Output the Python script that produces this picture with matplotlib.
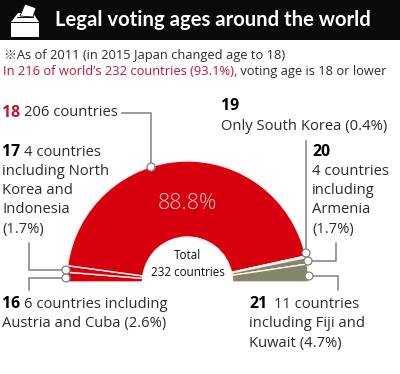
import matplotlib
matplotlib.use('Agg')
import matplotlib.pyplot as plt
from matplotlib.patches import Wedge, Rectangle, Polygon, Circle
import numpy as np

W, H = 400, 374
title = 'Legal voting ages around the world'
note = '※As of 2011 (in 2015 Japan changed age to 18)'
sub_red = 'In 216 of world’s 232 countries (93.1%),'
sub_black = ' voting age is 18 or lower'
ages = [16, 17, 18, 19, 20, 21]
counts = [6, 4, 206, 1, 4, 11]
pct_main = '88.8%'
total_label = 'Total\n232 countries'
RED = '#d7000f'; PINK = '#f2c9b8'; OLIVE = '#85856b'; GRAY = '#808080'
TXT = '#2b2b2b'; DARKRED = '#bf1530'
colors = [RED, RED, RED, PINK, OLIVE, OLIVE]

fig = plt.figure(figsize=(W/100, H/100), dpi=100)
ax = fig.add_axes([0, 0, 1, 1])
ax.set_xlim(0, W); ax.set_ylim(H, 0); ax.axis('off')
body = ['Open Sans', 'DejaVu Sans']
FS = 10.6

ax.add_patch(Rectangle((0, 0), W, 40, color='#0a0a0a', lw=0))
tt = ax.text(55, 20, title, color='white', fontsize=16, fontweight='bold',
             family=['Lato', 'DejaVu Sans'], va='center', ha='left')
fig.canvas.draw()
tt.set_fontsize(16 * 316 / (tt.get_window_extent().width * W / fig.bbox.width))
# ballot box icon
ax.add_patch(Polygon([[11, 22], [18, 13], [33, 13], [39, 22]], closed=True, color='white', lw=0))
ax.add_patch(Rectangle((11, 23), 28, 14, color='white', lw=0))
ax.add_patch(Rectangle((17, 16.5), 17, 1.5, color='#0a0a0a', lw=0))
ax.add_patch(Polygon([[25, 4], [36, 8], [33, 17], [20, 16]], closed=True, fc='white', ec='#0a0a0a', lw=0.6))

ax.text(4, 55, note, fontsize=9.25, family=['Open Sans', 'Noto Sans CJK JP'], color=TXT, va='center')
t = ax.text(3, 71.5, sub_red, fontsize=9.25, family=body, color=DARKRED, va='center')
fig.canvas.draw()
bb = t.get_window_extent()
ax.text(bb.x1 * W / fig.bbox.width, 71.5, sub_black, fontsize=9.25, family=body, color=TXT, va='center')

cx, cy, R, r = 187.5, 282, 121, 45
cum = np.cumsum([0] + counts)
total = cum[-1]
for i, c in enumerate(counts):
    # y axis is inverted: angles run clockwise on screen from the left, 180 to 360
    a0 = 180 + 180 * cum[i] / total
    a1 = 180 + 180 * cum[i+1] / total
    ax.add_patch(Wedge((cx, cy), R, a0, a1, width=R-r, fc=colors[i], ec='#fff5f0', lw=1.0))

ax.text(cx, 203, pct_main, color='#f7c9c0', fontsize=15.5, fontweight='light', family=body, ha='center', va='center')
ax.text(cx, 264, total_label, color='#111111', fontsize=8.4, family=body, ha='center', va='center', linespacing=1.35)

def leader(xs, ys):
    ax.plot(xs, ys, color=GRAY, lw=1.1, solid_joinstyle='miter', zorder=3)
def dot(x, y):
    ax.add_patch(Circle((x, y), 4, fc='white', ec=GRAY, lw=0.9, zorder=4))

p16 = (66, 278); p17 = (66, 270); p18 = (151, 167)
p19 = (306, 253); p20 = (308, 261); p21 = (309, 276)
leader([29, 29, p16[0]], [290, p16[1], p16[1]])
leader([29, 29, p17[0]], [243, p17[1], p17[1]])
leader([122, p18[0], p18[0]], [113, 113, p18[1]])
leader([306, 306], [141, p19[1]])
leader([336, 336, p20[0]], [243, p20[1], p20[1]])
leader([338, 338, p21[0]], [290, p21[1], p21[1]])
for p in (p16, p17, p18, p19, p20, p21):
    dot(*p)

def label(x, y, age, rest, cont, color='black', gap=4, step=19.3):
    t = ax.text(x, y, str(age), fontsize=FS+0.8, fontweight='bold', family=body, color=color, va='center')
    fig.canvas.draw()
    x1 = t.get_window_extent().x1 * W / fig.bbox.width
    if rest:
        ax.text(x1 + gap, y, rest, fontsize=FS, family=body, color=TXT, va='center')
    for k, l in enumerate(cont):
        ax.text(x, y + step*(k+1), l, fontsize=FS, family=body, color=TXT, va='center')

label(2, 112.5, 18, '206 countries', [], color=DARKRED)
label(2, 152, 17, '4 countries', ['including North', 'Korea and', 'Indonesia', '(1.7%)'])
label(2, 304, 16, '6 countries including', ['Austria and Cuba (2.6%)'], step=19.8)
label(221, 106, 19, '', ['Only South Korea (0.4%)'], step=20)
label(312, 152, 20, '', ['4 countries', 'including', 'Armenia', '(1.7%)'])
label(249, 304, 21, '11 countries', ['including Fiji and', 'Kuwait (4.7%)'], gap=7, step=19.8)
fig.savefig('out.png', dpi=100)
